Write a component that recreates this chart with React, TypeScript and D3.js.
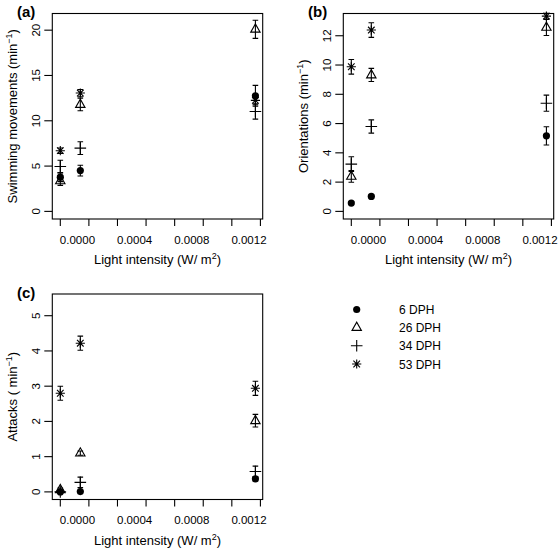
import React from "react";
import * as d3 from "d3";

// ---- data ----
const groupX = [-0.00012, 0.00002, 0.001245];
const seriesNames = ["6 DPH", "26 DPH", "34 DPH", "53 DPH"];
const seriesShapes = ["circle", "triangle", "plus", "asterisk"];

const xTickMarks = [-0.00012, 0.00008, 0.00028, 0.00048, 0.00068, 0.00088, 0.00108, 0.00128];
const xTickLabels = [0, 0.0004, 0.0008, 0.0012];

// Swimming movements
const swim6 = [3.78, 4.5, 12.76];
const swim6Err = [0.5, 0.6, 1.15];
const swim26 = [3.37, 11.8, 20.1];
const swim26Err = [0.5, 0.7, 1.0];
const swim34 = [4.95, 6.98, 11.03];
const swim34Err = [0.7, 0.7, 0.85];
const swim53 = [6.7, 13.06, 12.25];
const swim53Err = [0.3, 0.4, 0.5];

// Orientations
const ori6 = [0.57, 1.02, 5.16];
const ori6Err = [0.1, 0.1, 0.62];
const ori26 = [2.39, 9.32, 12.57];
const ori26Err = [0.4, 0.45, 0.55];
const ori34 = [3.23, 5.8, 7.39];
const ori34Err = [0.5, 0.45, 0.55];
const ori53 = [9.88, 12.39, 13.34];
const ori53Err = [0.5, 0.5, 0.2];

// Attacks
const att6 = [0.0, 0.01, 0.37];
const att6Err = [0.02, 0.02, 0.06];
const att26 = [0.06, 1.1, 2.02];
const att26Err = [0.05, 0.06, 0.18];
const att34 = [0.0, 0.27, 0.58];
const att34Err = [0.02, 0.15, 0.15];
const att53 = [2.8, 4.22, 2.94];
const att53Err = [0.2, 0.2, 0.2];

const panelA = { label: "(a)", title: "Swimming movements (min", ymax: 21, yTicks: [0, 5, 10, 15, 20],
  values: [swim6, swim26, swim34, swim53], errors: [swim6Err, swim26Err, swim34Err, swim53Err] };
const panelB = { label: "(b)", title: "Orientations (min", ymax: 13, yTicks: [0, 2, 4, 6, 8, 10, 12],
  values: [ori6, ori26, ori34, ori53], errors: [ori6Err, ori26Err, ori34Err, ori53Err] };
const panelC = { label: "(c)", title: "Attacks ( min", ymax: 5.4, yTicks: [0, 1, 2, 3, 4, 5],
  values: [att6, att26, att34, att53], errors: [att6Err, att26Err, att34Err, att53Err] };

const FONT = "'Liberation Sans', Arial, Helvetica, sans-serif";

function Symbol({ shape, cx, cy }: { shape: string; cx: number; cy: number }) {
  const s = { stroke: "#000", strokeWidth: 1.1, fill: "none" };
  if (shape === "circle") return <circle cx={cx} cy={cy} r={3.6} fill="#000" />;
  if (shape === "triangle")
    return <path d={`M${cx - 4.7},${cy + 2.9}L${cx + 4.7},${cy + 2.9}L${cx},${cy - 5.3}Z`} {...s} />;
  if (shape === "plus")
    return <path d={`M${cx - 5.8},${cy}H${cx + 5.8}M${cx},${cy - 5.8}V${cy + 5.8}`} {...s} />;
  const a = 4.6, b = 3.3;
  return (
    <path
      d={`M${cx - a},${cy}H${cx + a}M${cx},${cy - a}V${cy + a}M${cx - b},${cy - b}L${cx + b},${cy + b}M${cx - b},${cy + b}L${cx + b},${cy - b}`}
      {...s}
    />
  );
}

function Panel({ p, ox, oy }: { p: any; ox: number; oy: number }) {
  const left = 52.3 + ox, right = 262.7 + ox, top = 13.5 + oy, bottom = 219 + oy;
  const x = d3.scaleLinear().domain([-0.000176, 0.001296]).range([left, right]);
  const pad = p.ymax * 0.04;
  const y = d3.scaleLinear().domain([-pad, p.ymax + pad]).range([bottom, top]);
  const fmt = d3.format(".4f");
  return (
    <g fontFamily={FONT}>
      <rect x={left} y={top} width={right - left} height={bottom - top} fill="none" stroke="#000" strokeWidth={1.1} />
      {xTickMarks.map((t, i) => (
        <line key={i} x1={x(t)} x2={x(t)} y1={bottom} y2={bottom + 7} stroke="#000" strokeWidth={1.1} />
      ))}
      {xTickLabels.map((t, i) => (
        <text key={i} x={x(t)} y={243.5 + oy} fontSize={11.5} textAnchor="middle">{fmt(t)}</text>
      ))}
      {p.yTicks.map((t: number, i: number) => (
        <g key={i}>
          <line x1={left - 8} x2={left} y1={y(t)} y2={y(t)} stroke="#000" strokeWidth={1.1} />
          <text transform={`translate(${40 + ox},${y(t)}) rotate(-90)`} fontSize={11.5} textAnchor="middle">{t}</text>
        </g>
      ))}
      <text x={(left + right) / 2} y={264 + oy} fontSize={13} textAnchor="middle">
        Light intensity (W/ m<tspan dy={-5} fontSize={9}>2</tspan><tspan dy={5}>)</tspan>
      </text>
      <text transform={`translate(${17 + ox},${(top + bottom) / 2}) rotate(-90)`} fontSize={13} textAnchor="middle">
        {p.title}<tspan dy={-5} fontSize={9}>−1</tspan><tspan dy={5}>)</tspan>
      </text>
      <text x={17 + ox} y={17 + oy} fontSize={15} fontWeight="bold">{p.label}</text>
      {p.values.map((vals: number[], si: number) =>
        vals.map((v, gi) => {
          const e = p.errors[si][gi];
          const cx = x(groupX[gi]);
          return (
            <g key={`${si}-${gi}`}>
              <path
                d={`M${cx},${y(v - e)}V${y(v + e)}M${cx - 2.8},${y(v - e)}H${cx + 2.8}M${cx - 2.8},${y(v + e)}H${cx + 2.8}`}
                stroke="#000" strokeWidth={1.1} fill="none"
              />
              <Symbol shape={seriesShapes[si]} cx={cx} cy={y(v)} />
            </g>
          );
        })
      )}
    </g>
  );
}

export default function App() {
  const legendY = [309.5, 327.5, 345.8, 364];
  return (
    <svg width={559} height={550} style={{ position: "absolute", left: 0, top: 0, background: "#fff" }}>
      <rect width={559} height={550} fill="#fff" />
      <Panel p={panelA} ox={0} oy={0} />
      <Panel p={panelB} ox={291} oy={0} />
      <Panel p={panelC} ox={0} oy={280.5} />
      <g fontFamily={FONT}>
        {seriesNames.map((n, i) => (
          <g key={n}>
            <Symbol shape={seriesShapes[i]} cx={356.7} cy={legendY[i]} />
            <text x={399} y={legendY[i] + 4.5} fontSize={12}>{n}</text>
          </g>
        ))}
      </g>
    </svg>
  );
}
